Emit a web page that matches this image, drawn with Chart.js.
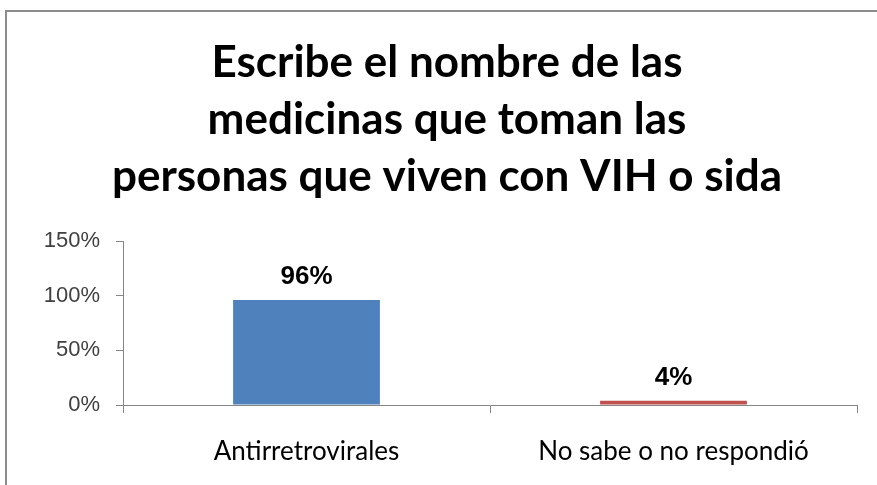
<!DOCTYPE html>
<html>
<head>
<meta charset="utf-8">
<script src="https://cdn.jsdelivr.net/npm/chart.js@4"></script>
<style>
html,body{margin:0;padding:0;background:#fff;overflow:hidden;}
canvas{display:block;}
</style>
</head>
<body>
<canvas id="c" width="877" height="485"></canvas>
<script>
const categories = ["Antirretrovirales", "No sabe o no respondió"];
const values = [96, 4];
const barColors = ["#4F81BD", "#C0504D"];
const yTicks = [0, 50, 100, 150];
const titleLines = ["Escribe el nombre de las", "medicinas que toman las", "personas que viven con VIH o sida"];

const frameAndTitle = {
  id: 'frameAndTitle',
  beforeDraw(chart) {
    const ctx = chart.ctx;
    ctx.save();
    ctx.fillStyle = '#fff';
    ctx.fillRect(0, 0, chart.width, chart.height);
    ctx.strokeStyle = '#8c8c8c';
    ctx.lineWidth = 2;
    ctx.beginPath();
    ctx.moveTo(6, chart.height + 5);
    ctx.lineTo(6, 11);
    ctx.lineTo(chart.width + 5, 11);
    ctx.stroke();
    ctx.restore();
  },
  afterDraw(chart) {
    const ctx = chart.ctx;
    ctx.save();
    ctx.font = 'bold 44px Lato, "Open Sans", sans-serif';
    ctx.fillStyle = '#000';
    ctx.textAlign = 'center';
    ctx.textBaseline = 'alphabetic';
    titleLines.forEach((t, i) => ctx.fillText(t, 447, 77 + i * 57));
    ctx.restore();
  }
};

const valueLabels = {
  id: 'valueLabels',
  afterDatasetsDraw(chart) {
    const ctx = chart.ctx;
    const meta = chart.getDatasetMeta(0);
    ctx.save();
    ctx.font = 'bold 26px "Liberation Sans", Arial, sans-serif';
    ctx.fillStyle = '#000';
    ctx.textAlign = 'center';
    ctx.textBaseline = 'alphabetic';
    meta.data.forEach((bar, i) => {
      ctx.fillText(values[i] + '%', bar.x, bar.y - 16);
    });
    ctx.restore();
  }
};

new Chart(document.getElementById('c'), {
  type: 'bar',
  data: {
    labels: categories,
    datasets: [{
      data: values,
      backgroundColor: barColors,
      borderWidth: 0,
      barPercentage: 0.4,
      categoryPercentage: 1.0
    }]
  },
  options: {
    responsive: false,
    animation: false,
    devicePixelRatio: 1,
    layout: { padding: { left: 0, right: 20, top: 241, bottom: 0 } },
    plugins: {
      legend: { display: false },
      tooltip: { enabled: false },
      title: { display: false }
    },
    scales: {
      y: {
        min: 0,
        max: 150,
        afterBuildTicks(scale) { scale.ticks = yTicks.map(v => ({ value: v })); },
        afterFit(scale) { scale.width = 123; },
        ticks: {
          callback: v => v + '%',
          color: '#404040',
          font: { family: '"Liberation Sans", Arial, sans-serif', size: 22 },
          padding: 16
        },
        grid: { display: true, drawOnChartArea: false, drawTicks: true, tickLength: 7, color: '#868686' },
        border: { display: true, color: '#868686', width: 1 }
      },
      x: {
        afterFit(scale) { scale.height = 80; },
        ticks: {
          color: '#000',
          font: { family: 'Lato, "Open Sans", sans-serif', size: 26 },
          padding: 23
        },
        grid: { display: true, offset: true, drawOnChartArea: false, drawTicks: true, tickLength: 8, color: '#868686' },
        border: { display: true, color: '#868686', width: 1 }
      }
    }
  },
  plugins: [valueLabels, frameAndTitle]
});
</script>
</body>
</html>
